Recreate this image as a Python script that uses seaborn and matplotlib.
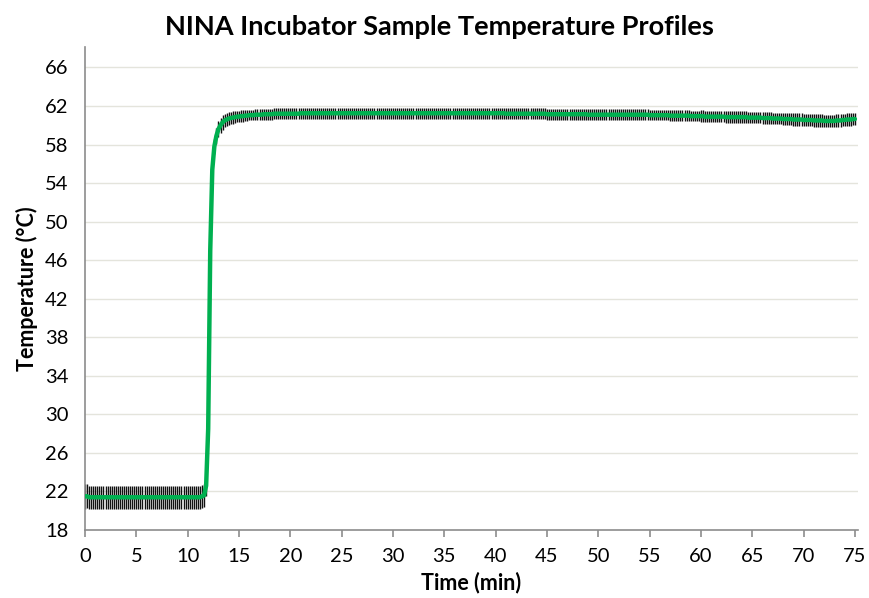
import numpy as np
import pandas as pd
import matplotlib
matplotlib.use('Agg')
import matplotlib.pyplot as plt
import seaborn as sns

# sample time grid (min), one reading every 0.2 min
time_min = np.round(np.arange(0, 75.01, 0.2), 1)

# mean sample temperature (C), 10 readings per row (2 min)
temp_mean = [
    21.5, 21.5, 21.4, 21.4, 21.4, 21.4, 21.4, 21.4, 21.4, 21.4,
    21.4, 21.4, 21.4, 21.4, 21.4, 21.4, 21.4, 21.4, 21.4, 21.4,
    21.4, 21.4, 21.4, 21.4, 21.4, 21.4, 21.4, 21.4, 21.4, 21.4,
    21.4, 21.4, 21.4, 21.4, 21.4, 21.4, 21.4, 21.4, 21.4, 21.4,
    21.4, 21.4, 21.4, 21.4, 21.4, 21.4, 21.4, 21.4, 21.4, 21.4,
    21.4, 21.4, 21.4, 21.4, 21.4, 21.4, 21.4, 21.5, 21.6, 22.6,
    28.5, 47.0, 55.4, 57.8, 58.9, 59.6, 60.0, 60.3, 60.5, 60.6,
    60.7, 60.75, 60.8, 60.85, 60.9, 60.9, 60.95, 60.95, 61.0, 61.0,
    61.05, 61.05, 61.05, 61.1, 61.1, 61.1, 61.1, 61.15, 61.15, 61.15,
    61.15, 61.15, 61.2, 61.2, 61.2, 61.2, 61.2, 61.2, 61.2, 61.2,
    61.2, 61.2, 61.2, 61.2, 61.2, 61.25, 61.25, 61.25, 61.25, 61.25,
    61.25, 61.25, 61.25, 61.25, 61.25, 61.25, 61.25, 61.25, 61.25, 61.25,
    61.25, 61.25, 61.25, 61.25, 61.25, 61.25, 61.25, 61.25, 61.25, 61.25,
    61.25, 61.25, 61.25, 61.25, 61.25, 61.25, 61.25, 61.25, 61.25, 61.25,
    61.25, 61.25, 61.25, 61.25, 61.25, 61.25, 61.25, 61.25, 61.25, 61.25,
    61.25, 61.25, 61.25, 61.25, 61.25, 61.25, 61.25, 61.25, 61.25, 61.25,
    61.25, 61.25, 61.25, 61.25, 61.25, 61.25, 61.25, 61.25, 61.25, 61.25,
    61.25, 61.25, 61.25, 61.25, 61.25, 61.25, 61.25, 61.25, 61.25, 61.25,
    61.25, 61.25, 61.25, 61.25, 61.25, 61.25, 61.25, 61.25, 61.25, 61.25,
    61.25, 61.25, 61.25, 61.25, 61.25, 61.25, 61.25, 61.25, 61.25, 61.25,
    61.25, 61.25, 61.25, 61.25, 61.25, 61.2, 61.2, 61.2, 61.2, 61.2,
    61.2, 61.2, 61.2, 61.2, 61.2, 61.2, 61.2, 61.2, 61.2, 61.2,
    61.2, 61.2, 61.2, 61.2, 61.2, 61.15, 61.15, 61.15, 61.15, 61.15,
    61.15, 61.15, 61.15, 61.15, 61.15, 61.15, 61.15, 61.15, 61.15, 61.15,
    61.15, 61.15, 61.15, 61.15, 61.15, 61.1, 61.1, 61.1, 61.1, 61.1,
    61.1, 61.1, 61.1, 61.1, 61.1, 61.1, 61.1, 61.1, 61.1, 61.1,
    61.1, 61.1, 61.1, 61.1, 61.1, 61.1, 61.1, 61.1, 61.1, 61.1,
    61.1, 61.1, 61.1, 61.1, 61.1, 61.05, 61.05, 61.05, 61.05, 61.05,
    61.05, 61.05, 61.05, 61.05, 61.05, 61.0, 61.0, 61.0, 61.0, 61.0,
    61.0, 61.0, 61.0, 61.0, 61.0, 60.95, 60.95, 60.95, 60.95, 60.95,
    60.95, 60.95, 60.9, 60.9, 60.9, 60.9, 60.9, 60.9, 60.9, 60.9,
    60.9, 60.9, 60.85, 60.85, 60.85, 60.85, 60.85, 60.85, 60.85, 60.85,
    60.85, 60.85, 60.85, 60.8, 60.8, 60.8, 60.8, 60.8, 60.8, 60.8,
    60.75, 60.75, 60.75, 60.75, 60.75, 60.7, 60.7, 60.7, 60.7, 60.7,
    60.65, 60.65, 60.65, 60.65, 60.65, 60.6, 60.6, 60.6, 60.6, 60.6,
    60.55, 60.55, 60.55, 60.55, 60.55, 60.5, 60.5, 60.5, 60.5, 60.5,
    60.45, 60.45, 60.45, 60.45, 60.45, 60.45, 60.5, 60.5, 60.5, 60.55,
    60.55, 60.6, 60.6, 60.6, 60.65, 60.65,
]

# standard deviation (C) drawn as the black bars
temp_sd = [
    1.3, 1.25, 1.2, 1.2, 1.2, 1.2, 1.2, 1.2, 1.2, 1.2,
    1.2, 1.2, 1.2, 1.2, 1.2, 1.2, 1.2, 1.2, 1.2, 1.2,
    1.2, 1.2, 1.2, 1.2, 1.2, 1.2, 1.2, 1.2, 1.2, 1.2,
    1.2, 1.2, 1.2, 1.2, 1.2, 1.2, 1.2, 1.2, 1.2, 1.2,
    1.2, 1.2, 1.2, 1.2, 1.2, 1.2, 1.2, 1.2, 1.2, 1.2,
    1.2, 1.2, 1.2, 1.2, 1.2, 1.2, 1.2, 1.2, 1.2, 1.1,
    0.6, 0.5, 0.6, 0.8, 0.8, 0.8, 0.75, 0.75, 0.7, 0.7,
    0.7, 0.65, 0.65, 0.65, 0.6, 0.6, 0.6, 0.6, 0.6, 0.6,
    0.55, 0.55, 0.55, 0.55, 0.55, 0.55, 0.55, 0.55, 0.55, 0.55,
    0.55, 0.55, 0.55, 0.55, 0.55, 0.55, 0.55, 0.55, 0.55, 0.55,
    0.55, 0.55, 0.55, 0.55, 0.55, 0.55, 0.55, 0.55, 0.55, 0.55,
    0.55, 0.55, 0.55, 0.55, 0.55, 0.55, 0.55, 0.55, 0.55, 0.55,
    0.55, 0.55, 0.55, 0.55, 0.55, 0.55, 0.55, 0.55, 0.55, 0.55,
    0.55, 0.55, 0.55, 0.55, 0.55, 0.55, 0.55, 0.55, 0.55, 0.55,
    0.55, 0.55, 0.55, 0.55, 0.55, 0.55, 0.55, 0.55, 0.55, 0.55,
    0.55, 0.55, 0.55, 0.55, 0.55, 0.55, 0.55, 0.55, 0.55, 0.55,
    0.55, 0.55, 0.55, 0.55, 0.55, 0.55, 0.55, 0.55, 0.55, 0.55,
    0.55, 0.55, 0.55, 0.55, 0.55, 0.55, 0.55, 0.55, 0.55, 0.55,
    0.55, 0.55, 0.55, 0.55, 0.55, 0.55, 0.55, 0.55, 0.55, 0.55,
    0.55, 0.55, 0.55, 0.55, 0.55, 0.55, 0.55, 0.55, 0.55, 0.55,
    0.55, 0.55, 0.55, 0.55, 0.55, 0.55, 0.55, 0.55, 0.55, 0.55,
    0.55, 0.55, 0.55, 0.55, 0.55, 0.55, 0.55, 0.55, 0.55, 0.55,
    0.55, 0.55, 0.55, 0.55, 0.55, 0.55, 0.55, 0.55, 0.55, 0.55,
    0.55, 0.55, 0.55, 0.55, 0.55, 0.55, 0.55, 0.55, 0.55, 0.55,
    0.55, 0.55, 0.55, 0.55, 0.55, 0.55, 0.55, 0.55, 0.55, 0.55,
    0.55, 0.55, 0.55, 0.55, 0.55, 0.55, 0.55, 0.55, 0.55, 0.55,
    0.55, 0.55, 0.55, 0.55, 0.55, 0.55, 0.55, 0.55, 0.55, 0.55,
    0.55, 0.55, 0.55, 0.55, 0.55, 0.55, 0.55, 0.55, 0.55, 0.55,
    0.55, 0.55, 0.55, 0.55, 0.55, 0.55, 0.55, 0.55, 0.55, 0.55,
    0.55, 0.55, 0.55, 0.55, 0.55, 0.55, 0.55, 0.55, 0.55, 0.55,
    0.6, 0.6, 0.6, 0.6, 0.6, 0.6, 0.6, 0.6, 0.6, 0.6,
    0.6, 0.6, 0.6, 0.6, 0.6, 0.6, 0.6, 0.6, 0.6, 0.6,
    0.6, 0.6, 0.6, 0.6, 0.6, 0.6, 0.6, 0.6, 0.6, 0.6,
    0.6, 0.6, 0.6, 0.6, 0.6, 0.6, 0.6, 0.6, 0.6, 0.6,
    0.65, 0.65, 0.65, 0.65, 0.65, 0.65, 0.65, 0.65, 0.65, 0.65,
    0.65, 0.65, 0.65, 0.65, 0.65, 0.65, 0.65, 0.65, 0.65, 0.65,
    0.65, 0.65, 0.65, 0.65, 0.65, 0.65, 0.65, 0.65, 0.65, 0.65,
    0.65, 0.65, 0.65, 0.65, 0.65, 0.65,
]

y_ticks = [18, 22, 26, 30, 34, 38, 42, 46, 50, 54, 58, 62, 66]
x_ticks = [0, 5, 10, 15, 20, 25, 30, 35, 40, 45, 50, 55, 60, 65, 70, 75]

df = pd.DataFrame({'time': time_min, 'temp': temp_mean, 'sd': temp_sd})

sns.set_theme(style='white')
plt.rcParams['font.family'] = ['Lato', 'DejaVu Sans']
plt.rcParams['text.color'] = 'black'
plt.rcParams['axes.labelcolor'] = 'black'
plt.rcParams['xtick.color'] = 'black'
plt.rcParams['ytick.color'] = 'black'

fig = plt.figure(figsize=(8.7, 5.98), dpi=100)
ax = fig.add_axes([0.0977, 0.1137, 0.8885, 0.8073])

# light horizontal gridlines
for yv in y_ticks[1:]:
    ax.axhline(yv, color='#e4e4dc', linewidth=1.0, zorder=0)

ax.errorbar(df['time'], df['temp'], yerr=df['sd'], fmt='none',
            ecolor='#111111', elinewidth=1.0, capsize=0, zorder=2)
sns.lineplot(data=df, x='time', y='temp', color='#00b050', linewidth=3.2,
             ax=ax, zorder=3)

ax.set_xlim(0, 75.3)
ax.set_ylim(18, 68.1)
ax.set_xticks(x_ticks)
ax.set_yticks(y_ticks)
ax.tick_params(axis='x', direction='out', length=5, width=1.2, color='#8c8c8c',
               labelcolor='black', labelsize=14.5, pad=8, bottom=True)
ax.tick_params(axis='y', length=0, labelsize=14.5, pad=12, labelcolor='black')

for side in ['top', 'right']:
    ax.spines[side].set_visible(False)
for side in ['left', 'bottom']:
    ax.spines[side].set_color('#8c8c8c')
    ax.spines[side].set_linewidth(1.2)

ax.set_xlabel('Time (min)', fontsize=15.5, fontweight='bold', labelpad=5)
ax.set_ylabel('Temperature (°C)', fontsize=15.5, fontweight='bold', labelpad=5)
fig.suptitle('NINA Incubator Sample Temperature Profiles', fontsize=19.5,
             fontweight='bold', x=0.505, y=0.975)

fig.savefig('out.png', dpi=100)
